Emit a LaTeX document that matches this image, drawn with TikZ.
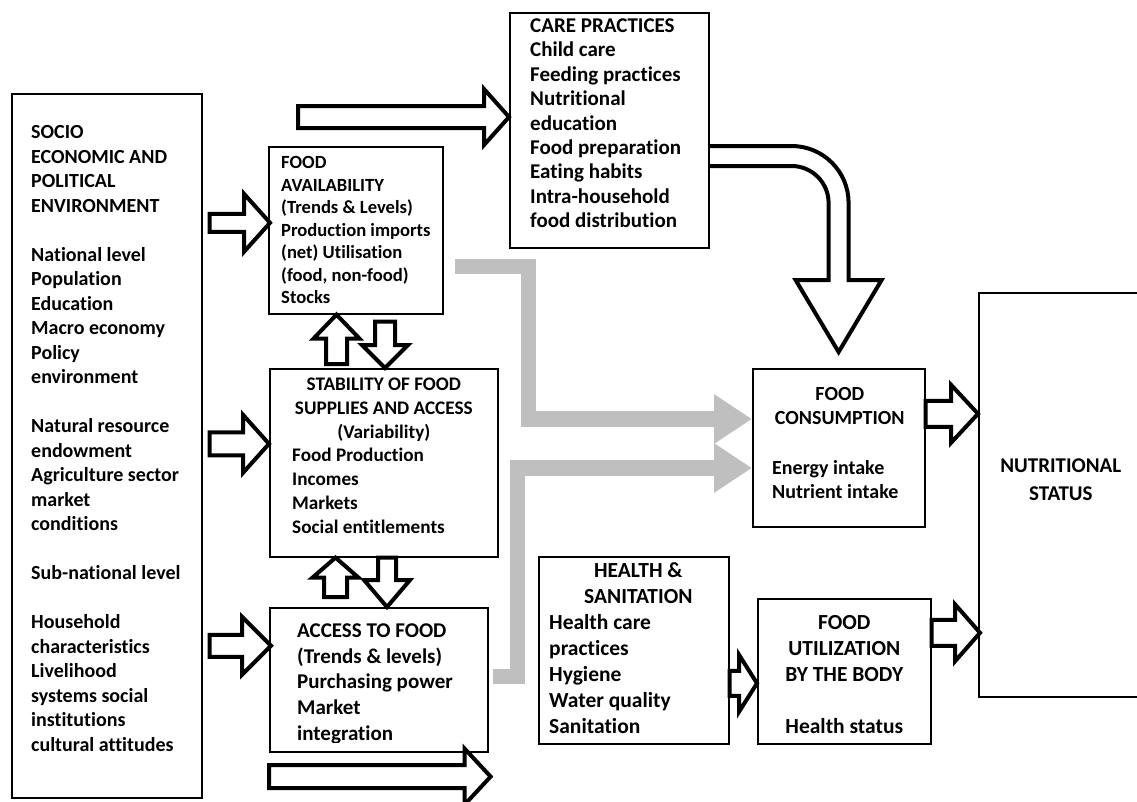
\documentclass[tikz,border=0pt]{standalone}
\usepackage{fontspec}
\setmainfont{Carlito}[Ligatures=NoCommon, Contextuals=NoAlternate]
\usetikzlibrary{positioning, calc, arrows.meta, backgrounds}
\definecolor{Ink}{HTML}{000000}
\definecolor{Flow}{HTML}{BFBFBF}
\tikzset{
    box/.style={rectangle, draw=Ink, line width=1.6pt, inner sep=0pt, anchor=north west},
    txt/.style 2 args={inner sep=0pt, align=left, anchor=north west, font=\bfseries\fontsize{#1}{#2}\selectfont},
    ctxt/.style 2 args={txt={#1}{#2}, align=center, anchor=north},
    blockarrow/.style={draw=Ink, line width=4pt, fill=white, line join=miter, miter limit=10},
    grayflow/.style={draw=Flow, line width=15.5pt, line join=miter, -{Triangle[length=38pt, width=47pt]}},
}
% fat outlined arrow: start, tip, shaft half width, head half width, head length
\newcommand{\fatarrow}[5]{%
  \path #1 coordinate (fa-s) #2 coordinate (fa-t) ($(fa-t)!#5!(fa-s)$) coordinate (fa-b);
  \draw[blockarrow] ($(fa-s)!#3!90:(fa-t)$) -- ($(fa-b)!#3!90:(fa-t)$) -- ($(fa-b)!#4!90:(fa-t)$)
    -- (fa-t) -- ($(fa-b)!#4!-90:(fa-t)$) -- ($(fa-b)!#3!-90:(fa-t)$) -- ($(fa-s)!#3!-90:(fa-t)$) -- cycle;}

\begin{document}
\begin{tikzpicture}[x=1pt, y=-1pt]
  \useasboundingbox (0,0) rectangle (1137,801);

  % boxes
  \node[box, minimum width=190, minimum height=704] (socio) at (11,93) {};
  \node[box, minimum width=174, minimum height=167] (avail) at (268,146) {};
  \node[box, minimum width=199, minimum height=235] (care) at (509,12) {};
  \node[box, minimum width=228, minimum height=188] (stab) at (269,368) {};
  \node[box, minimum width=218, minimum height=144] (access) at (269,607) {};
  \node[box, minimum width=172, minimum height=158] (cons) at (752,368) {};
  \node[box, minimum width=190, minimum height=187] (health) at (538,556) {};
  \node[box, minimum width=173, minimum height=145] (util) at (757,598) {};
  \node[box, minimum width=164, minimum height=404] (nutr) at (978,292) {};

  % texts
  \node[txt={20}{24.5}] (socioText) at ($(socio.north west)+(20,32.5)$)
    {SOCIO\\ECONOMIC AND\\POLITICAL\\ENVIRONMENT\\~\\National level\\Population\\Education\\Macro economy\\Policy\\environment\\~\\Natural resource\\endowment\\Agriculture sector\\market\\conditions\\~\\Sub-national level\\~\\Household\\characteristics\\Livelihood\\systems social\\institutions\\cultural attitudes};
  \node[txt={18.6}{22.5}] (availText) at ($(avail.north west)+(13,10.5)$)
    {FOOD\\AVAILABILITY\\(Trends \& Levels)\\Production imports\\(net) Utilisation\\(food, non-food)\\Stocks};
  \node[txt={21}{24.4}] (careText) at ($(care.north west)+(21,6.5)$)
    {CARE PRACTICES\\Child care\\Feeding practices\\Nutritional\\education\\Food preparation\\Eating habits\\Intra-household\\food distribution};
  \node[ctxt={19.2}{24}] (stabTitle) at ($(stab.north)+(0,9.5)$)
    {STABILITY OF FOOD\\SUPPLIES AND ACCESS\\(Variability)};
  \node[txt={19.2}{24}] (stabText) at ($(stab.north west)+(23,80)$)
    {Food Production\\Incomes\\Markets\\Social entitlements};
  \begin{scope}
    \clip (access.north west) rectangle ($(access.south east)+(0,-10)$);
    \node[txt={21}{25.7}] (accessText) at ($(access.north west)+(28,16.5)$)
      {ACCESS TO FOOD\\(Trends \& levels)\\Purchasing power\\Market\\integration};
  \end{scope}
  \node[ctxt={21.5}{26}] (healthTitle) at ($(health.north)+(4.5,6)$) {HEALTH \&\\SANITATION};
  \node[txt={21.5}{26}] (healthText) at ($(health.north west)+(11,58.5)$)
    {Health care\\practices\\Hygiene\\Water quality\\Sanitation};
  \node[ctxt={20}{24}] (consTitle) at ($(cons.north)+(1,19)$) {FOOD\\CONSUMPTION};
  \node[txt={20}{24}] (consText) at ($(cons.north west)+(20,92)$) {Energy intake\\Nutrient intake};
  \node[ctxt={21.5}{26}] (utilText) at ($(util.north)+(0,17.5)$) {FOOD\\UTILIZATION\\BY THE BODY\\~\\Health status};
  \node[ctxt={21}{28}] (nutrText) at ($(nutr.north)+(0,166.5)$) {NUTRITIONAL\\STATUS};

  \begin{scope}[on background layer]
    % grey flows into food consumption
    \draw[grayflow] ($(avail.south east)+(11,-48)$) -- ++(74,0) |- ($(cons.north west)+(0,51)$);
    \draw[grayflow] ($(access.east)+(4,-3.5)$) -- ++(25,0) |- ($(cons.north west)+(0,100)$);

    % curved arrow from care practices
    \begin{scope}[shift={(care.north east)}]
      \filldraw[blockarrow] (0,134) -- (82,134) .. controls (113.5,134) and (139,159.5) .. (139,191)
        -- (139,268) -- (172,268) -- (129,340) -- (86,268) -- (119,268) -- (119,191)
        .. controls (119,170.6) and (102.4,154) .. (82,154) -- (0,154);
    \end{scope}

    % block arrows
    \fatarrow{($(care.north west)+(-211,105)$)}{($(care.north west)+(0,105)$)}{11pt}{28pt}{25pt}
    \fatarrow{($(socio.east |- avail.west)+(7,-7.5)$)}{($(avail.west)+(2,-7.5)$)}{9pt}{29pt}{26pt}
    \fatarrow{($(socio.east |- stab.west)+(7,-19)$)}{($(stab.west)+(0,-19)$)}{11.5pt}{29pt}{26pt}
    \fatarrow{($(socio.east |- access.west)+(7,-34)$)}{($(access.west)+(2,-34)$)}{11pt}{29pt}{29pt}
    \fatarrow{($(access.south west)+(0,24)$)}{($(access.south east)+(2,24)$)}{11.5pt}{28pt}{26pt}
    \fatarrow{($(cons.east)+(0,-34)$)}{($(nutr.west |- cons.east)+(0,-34)$)}{13pt}{29pt}{27pt}
    \fatarrow{($(util.east)+(0,-38.5)$)}{($(nutr.west |- util.east)+(2,-38.5)$)}{13pt}{28.5pt}{25pt}
    \fatarrow{($(health.east)+(0,33)$)}{($(util.west |- health.east)+(0,33)$)}{12.5pt}{28.5pt}{18pt}
    \fatarrow{($(stab.north west)+(67.5,-4)$)}{($(avail.south west)+(68.5,0)$)}{10.5pt}{23pt}{24pt}
    \fatarrow{($(avail.south west)+(117,7)$)}{($(stab.north west)+(116,0)$)}{10pt}{23pt}{23pt}
    \fatarrow{($(access.north west)+(66.5,-10)$)}{($(stab.south west)+(66.5,0)$)}{11.5pt}{23pt}{20pt}
    \fatarrow{($(stab.south west)+(118,0)$)}{($(access.north west)+(118,0)$)}{9pt}{23pt}{27pt}
  \end{scope}
\end{tikzpicture}
\end{document}
